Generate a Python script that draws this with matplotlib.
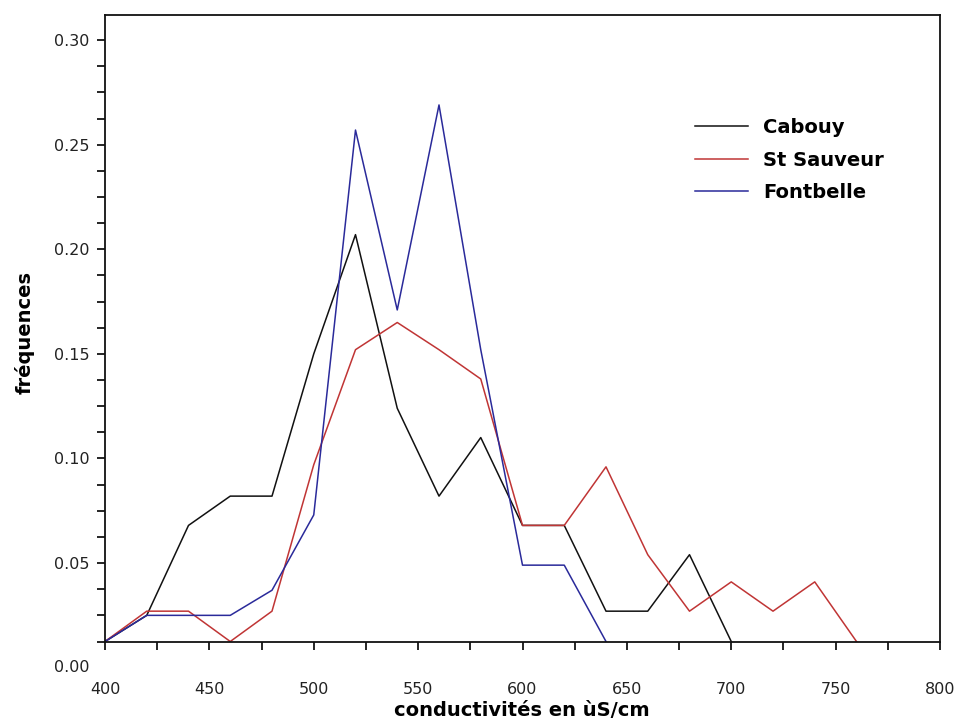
import matplotlib
matplotlib.use("Agg")
import matplotlib.pyplot as plt
from matplotlib.ticker import MultipleLocator

x_cabouy = [400, 420, 440, 460, 480, 500, 520, 540, 560, 580, 600, 620, 640, 660, 680, 700]
y_cabouy = [0.0125, 0.025, 0.068, 0.082, 0.082, 0.150, 0.207, 0.124, 0.082, 0.110, 0.068, 0.068, 0.027, 0.027, 0.054, 0.0125]

x_sauveur = [400, 420, 440, 460, 480, 500, 520, 540, 560, 580, 600, 620, 640, 660, 680, 700, 720, 740, 760]
y_sauveur = [0.0125, 0.027, 0.027, 0.0125, 0.027, 0.097, 0.152, 0.165, 0.152, 0.138, 0.068, 0.068, 0.096, 0.054, 0.027, 0.041, 0.027, 0.041, 0.0125]

x_font = [400, 420, 440, 460, 480, 500, 520, 540, 560, 580, 600, 620, 640]
y_font = [0.0125, 0.025, 0.025, 0.025, 0.037, 0.073, 0.257, 0.171, 0.269, 0.152, 0.049, 0.049, 0.0125]

series_names = ["Cabouy", "St Sauveur", "Fontbelle"]
series_colors = ["#111111", "#c03535", "#2a2a9a"]

xticks = [400, 450, 500, 550, 600, 650, 700, 750, 800]
yticks = [0.05, 0.10, 0.15, 0.20, 0.25, 0.30]

fig = plt.figure(figsize=(9.56, 7.24), dpi=100)
ax = fig.add_axes([105/956, 1-641.5/724, 835/956, (641.5-15)/724])

for xs, ys, name, c in zip([x_cabouy, x_sauveur, x_font], [y_cabouy, y_sauveur, y_font], series_names, series_colors):
    ax.plot(xs, ys, color=c, lw=1.1, label=name)

ax.set_xlim(400, 800)
ax.set_ylim(0.0125, 0.312)
ax.set_xticks(xticks)
ax.set_xticklabels([str(v) for v in xticks])
ax.set_yticks(yticks)
ax.set_yticklabels([f"{v:.2f}" for v in yticks])
ax.xaxis.set_minor_locator(MultipleLocator(25))
ax.yaxis.set_minor_locator(MultipleLocator(0.0125))

for s in ax.spines.values():
    s.set_linewidth(1.3)
    s.set_color("#111111")

ax.tick_params(axis="x", which="both", direction="out", length=5.5, width=1.2, pad=24, labelsize=11.5, labelcolor="#222222")
ax.tick_params(axis="y", which="both", direction="out", length=5.5, width=1.2, pad=5.5, labelsize=11.5, labelcolor="#222222")

ax.annotate("0.00", xy=(0, 0.0), xycoords=ax.get_yaxis_transform(), xytext=(-11, 0),
            textcoords="offset points", ha="right", va="center", fontsize=11.5, color="#222222",
            annotation_clip=False)

fig.text(522/956, 1-711/724, "conductivités en ùS/cm", ha="center", va="center", fontsize=14, fontweight="bold")
fig.text(25/956, 1-332/724, "fréquences", ha="center", va="center", rotation=90, fontsize=14, fontweight="bold")

leg = ax.legend(loc="upper left", bbox_to_anchor=(695/956, 1-118/724), bbox_transform=fig.transFigure,
                frameon=False, borderpad=0, borderaxespad=0, handlelength=2.75, handletextpad=0.75,
                labelspacing=0.7, prop={"weight": "bold", "size": 14})

fig.savefig("out.png", dpi=100)
